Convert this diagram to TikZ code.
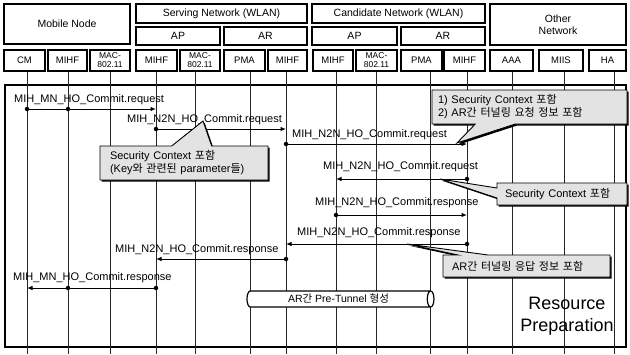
\documentclass[tikz,border=0pt]{standalone}
\usepackage{fontspec}
\setmainfont{Liberation Sans}
\newfontfamily\kr{Noto Sans CJK KR}
\usetikzlibrary{shapes.geometric,shapes.callouts,shadows,arrows.meta}
\begin{document}
\begin{tikzpicture}[x=1pt,y=-1pt,
  hdr/.style={draw, line width=1.6pt, fill=white, inner sep=0pt, align=center,
    font=\fontsize{10.5}{12}\selectfont},
  sub/.style={hdr, font=\fontsize{9.5}{10}\selectfont},
  subs/.style={hdr, font=\fontsize{8.5}{9}\selectfont},
  lifeline/.style={line width=0.6pt, black!85},
  msg/.style={line width=1pt, -{Latex[length=5.5pt,width=4.5pt]}},
  dotn/.style={circle, fill=black, inner sep=0pt, minimum size=4.5pt},
  lbl/.style={anchor=west, inner sep=0pt, font=\fontsize{11}{12}\selectfont},
  callbox/.style={rectangle callout, draw, line width=0.9pt, fill=gray!22,
    drop shadow={shadow xshift=1.6pt, shadow yshift=-1.6pt, fill=black, opacity=1},
    inner ysep=0pt, align=left, font=\fontsize{11}{13}\selectfont},
]
\useasboundingbox (0,0) rectangle (630,354);
\fill[white] (0,0) rectangle (630,354);

% frame
\draw[line width=1.2pt] (5,85) rectangle (626,347);

% lifeline coordinates
\foreach \n/\x in {l1/27,l2/68,l3/110,l4/156,l5/195,l6/250,l7/286,l8/336,l9/376,l10/430,l11/467,l12/512,l13/564,l14/614}{
  \coordinate (\n) at (\x,71);
  \coordinate (\n e) at (\x,354);
  \draw[lifeline] (\n) -- (\n e);
}

% header boxes
\node[hdr, minimum width=126, minimum height=40] (mn) at (67,24) {Mobile Node};
\node[hdr, minimum width=171, minimum height=19] (sn) at (221.5,13.5) {Serving Network (WLAN)};
\node[hdr, minimum width=84, minimum height=18] (sap) at (178,36) {AP};
\node[hdr, minimum width=83, minimum height=18] (sar) at (265.5,36) {AR};
\node[hdr, minimum width=173, minimum height=19] (cn) at (398.5,13.5) {Candidate Network (WLAN)};
\node[hdr, minimum width=85, minimum height=18] (cap) at (354.5,36) {AP};
\node[hdr, minimum width=84, minimum height=18] (car) at (443,36) {AR};
\node[hdr, minimum width=136, minimum height=41] (on) at (558,24.5) {Other\\Network};

\node[sub, minimum width=41, minimum height=21] (cm) at (24.5,60.5) {CM};
\node[sub, minimum width=39, minimum height=21] (mmihf) at (67.5,60.5) {MIHF};
\node[subs, minimum width=40, minimum height=21] (mmac) at (110,60.5) {MAC-\\802.11};
\node[sub, minimum width=41, minimum height=21] (amihf) at (156.5,60.5) {MIHF};
\node[subs, minimum width=40, minimum height=21] (amac) at (200,60.5) {MAC-\\802.11};
\node[sub, minimum width=41, minimum height=21] (rpma) at (244.5,60.5) {PMA};
\node[sub, minimum width=39, minimum height=21] (rmihf) at (287.5,60.5) {MIHF};
\node[sub, minimum width=40, minimum height=21] (cmihf) at (333,60.5) {MIHF};
\node[subs, minimum width=41, minimum height=21] (cmac) at (376.5,60.5) {MAC-\\802.11};
\node[sub, minimum width=41, minimum height=21] (cpma) at (421.5,60.5) {PMA};
\node[sub, minimum width=41, minimum height=21] (cmihfb) at (464.5,60.5) {MIHF};
\node[sub, minimum width=43, minimum height=21] (aaa) at (511.5,60.5) {AAA};
\node[sub, minimum width=44, minimum height=21] (miis) at (561,60.5) {MIIS};
\node[sub, minimum width=37, minimum height=21] (ha) at (607.5,60.5) {HA};

% message rows
\foreach \m/\y in {m1/109,m2/129,m3/144,m4/179,m5/215,m6/244,m7/259,m8/288}{
  \coordinate (\m) at (0,\y);
}

% 1
\node[dotn] (d1a) at (l1 |- m1) {};
\node[dotn] (d1b) at (l2 |- m1) {};
\draw[msg] (d1a) -- (l4 |- m1);
\node[lbl] (t1) at (14,100) {MIH\_MN\_HO\_Commit.request};
% 2
\node[dotn] (d2) at (l4 |- m2) {};
\draw[msg] (d2) -- (l7 |- m2);
\node[lbl] (t2) at (127,120) {MIH\_N2N\_HO\_Commit.request};
% 3
\node[dotn] (d3) at (l7 |- m3) {};
\draw[msg] (d3) -- (l11 |- m3);
\node[lbl] (t3) at (292,135) {MIH\_N2N\_HO\_Commit.request};
% 4
\node[dotn] (d4) at (l11 |- m4) {};
\draw[msg] (d4) -- (l8 |- m4);
\node[lbl] (t4) at (323,167) {MIH\_N2N\_HO\_Commit.request};
% 5
\node[dotn] (d5) at (l8 |- m5) {};
\draw[msg] (d5) -- (l11 |- m5);
\node[lbl] (t5) at (315,203) {MIH\_N2N\_HO\_Commit.response};
% 6
\node[dotn] (d6) at (l11 |- m6) {};
\draw[msg] (d6) -- (l7 |- m6);
\node[lbl] (t6) at (297,233) {MIH\_N2N\_HO\_Commit.response};
% 7
\node[dotn] (d7) at (l7 |- m7) {};
\draw[msg] (d7) -- (l4 |- m7);
\node[lbl] (t7) at (115,250) {MIH\_N2N\_HO\_Commit.response};
% 8
\node[dotn] (d8a) at (l4 |- m8) {};
\node[dotn] (d8b) at (l2 |- m8) {};
\draw[msg] (d8a) -- (l1 |- m8);
\node[lbl] (t8) at (13,278) {MIH\_MN\_HO\_Commit.response};

% callouts
\node[callbox, callout absolute pointer={(203,121)}, callout pointer width=40pt,
  text width=148pt, inner xsep=10pt, minimum height=34pt] (ca) at (184,163)
  {Security Context {\kr 포함}\\({Key\kr 와 관련된} parameter{\kr 들})};
\node[callbox, callout absolute pointer={(457,143)}, callout pointer width=40pt,
  text width=183pt, inner xsep=6pt, minimum height=34pt] (cb) at (529.5,107)
  {1) Security Context {\kr 포함}\\2) AR{\kr 간 터널링 요청 정보 포함}};
\node[callbox, callout absolute pointer={(440,179)}, callout pointer width=10pt,
  text width=114pt, inner xsep=8pt, minimum height=22pt] (cc) at (562,194)
  {Security Context {\kr 포함}};
\node[callbox, callout absolute pointer={(407,244)}, callout pointer width=30pt,
  text width=149pt, inner xsep=9pt, minimum height=22pt] (cd) at (526.5,266)
  {AR{\kr 간 터널링 응답 정보 포함}};

% tunnel
\node[cylinder, draw, line width=1.2pt, fill=white, minimum width=16pt, minimum height=187pt,
  aspect=0.7, inner sep=0pt, font=\fontsize{10.5}{12}\selectfont] (tun) at (338.5,299)
  {AR{\kr 간} Pre-Tunnel {\kr 형성}};

% resource preparation
\node[align=center, font=\fontsize{18}{22}\selectfont] (rp) at (567,316) {Resource\\Preparation};
\end{tikzpicture}
\end{document}
